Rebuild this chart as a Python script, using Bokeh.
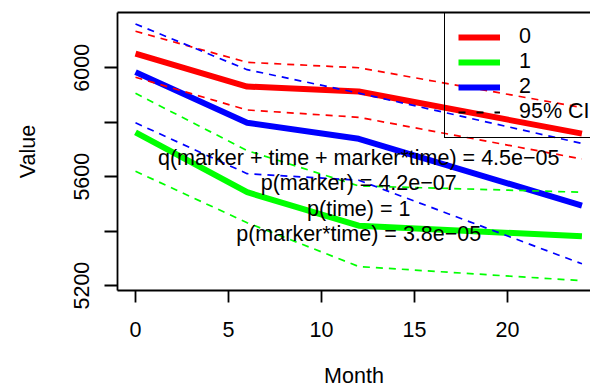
from bokeh.plotting import figure
from bokeh.models import Range1d, FixedTicker, LinearAxis, Legend, LegendItem
from bokeh.core.properties import value
from bokeh.embed import file_html
from bokeh.resources import INLINE

# ---- data ----
months = [0, 6, 12, 24]
groups = ["0", "1", "2"]
colors = ["#FF0000", "#00FF00", "#0000FF"]
mean_0 = [6052, 5931, 5913, 5758]
upper_0 = [6134, 6020, 6000, 5854]
lower_0 = [5965, 5845, 5818, 5665]
mean_1 = [5763, 5543, 5420, 5381]
upper_1 = [5906, 5696, 5566, 5543]
lower_1 = [5620, 5431, 5270, 5218]
mean_2 = [5984, 5798, 5739, 5494]
upper_2 = [6161, 5993, 5907, 5722]
lower_2 = [5798, 5611, 5587, 5280]
x_ticks = [0, 5, 10, 15, 20]
y_ticks = [5200, 5400, 5600, 5800, 6000]
y_tick_labels = {5200: "5200", 5400: "", 5600: "5600", 5800: "", 6000: "6000"}
x_title = "Month"
y_title = "Value"
stat_lines = [
    "q(marker + time + marker*time) = 4.5e\u221205",
    "p(marker) = 4.2e\u221207",
    "p(time) = 1",
    "p(marker*time) = 3.8e\u221205",
]
stat_x = [12, 12, 12, 12]
stat_y = [5670, 5575, 5483, 5391]

FONT = "Liberation Sans"
FS = "21.5px"

p = figure(width=590, height=390, output_backend="svg", toolbar_location=None,
           x_range=Range1d(-0.968, 24.46), y_range=Range1d(5182, 6203),
           min_border=0, min_border_left=117, min_border_top=12,
           min_border_bottom=100, min_border_right=0)
p.xgrid.visible = False
p.ygrid.visible = False
p.outline_line_color = None
p.background_fill_color = "white"
p.border_fill_color = "white"

for ax in (p.xaxis[0], p.yaxis[0]):
    ax.major_tick_in = 0
    ax.minor_tick_line_color = None
    ax.axis_line_width = 1.8
    ax.major_tick_line_width = 1.8
    ax.major_label_text_font = FONT
    ax.major_label_text_font_size = FS
    ax.major_label_text_color = "black"
    ax.axis_label_text_font = FONT
    ax.axis_label_text_font_size = FS
    ax.axis_label_text_font_style = "normal"
    ax.axis_label_text_color = "black"

p.xaxis.ticker = FixedTicker(ticks=x_ticks)
p.xaxis.major_tick_out = 12
p.xaxis.major_label_standoff = 19
p.xaxis.axis_label = x_title
p.xaxis.axis_label_standoff = 24

p.yaxis.ticker = FixedTicker(ticks=y_ticks)
p.yaxis.major_label_overrides = y_tick_labels
p.yaxis.major_label_orientation = "vertical"
p.yaxis.major_tick_out = 13
p.yaxis.major_label_standoff = 15
p.yaxis.axis_label = y_title
p.yaxis.axis_label_standoff = 32

top_axis = LinearAxis(ticker=FixedTicker(ticks=[]), major_tick_out=0, major_tick_in=0,
                      minor_tick_line_color=None, major_label_text_font_size="0px",
                      axis_line_width=1.8, major_label_standoff=0)
p.add_layout(top_axis, "above")

means = [mean_0, mean_1, mean_2]
uppers = [upper_0, upper_1, upper_2]
lowers = [lower_0, lower_1, lower_2]

mean_renderers = []
for m, c in zip(means, colors):
    r = p.line(months, m, line_color=c, line_width=6)
    mean_renderers.append(r)

for u, l, c in zip(uppers, lowers, colors):
    p.line(months, u, line_color=c, line_width=1.7, line_dash="7 6")
    p.line(months, l, line_color=c, line_width=1.7, line_dash="7 6")

# legend-only renderer for the "95% CI" entry (no visible data)
ci_dummy = p.line(x=months[:2], y=[float("nan"), float("nan")], line_color="black",
                  line_width=2, line_dash="7 11")

p.text(x=stat_x, y=stat_y, text=stat_lines, text_align="center", text_baseline="middle",
       text_font=value(FONT), text_font_size=FS, text_color="black")

items = [LegendItem(label=g, renderers=[r]) for g, r in zip(groups, mean_renderers)]
items.append(LegendItem(label="95% CI", renderers=[ci_dummy]))
legend = Legend(items=items, location=(327, 152), orientation="vertical",
                glyph_width=42, glyph_height=20, label_height=25, spacing=0,
                padding=13, margin=0, label_standoff=19,
                label_text_font=FONT, label_text_font_size=FS, label_text_color="black",
                border_line_color="black", border_line_alpha=1.0, border_line_width=1.8,
                background_fill_alpha=0.0)
p.add_layout(legend, "center")

open("out.html", "w").write(file_html(p, INLINE))
